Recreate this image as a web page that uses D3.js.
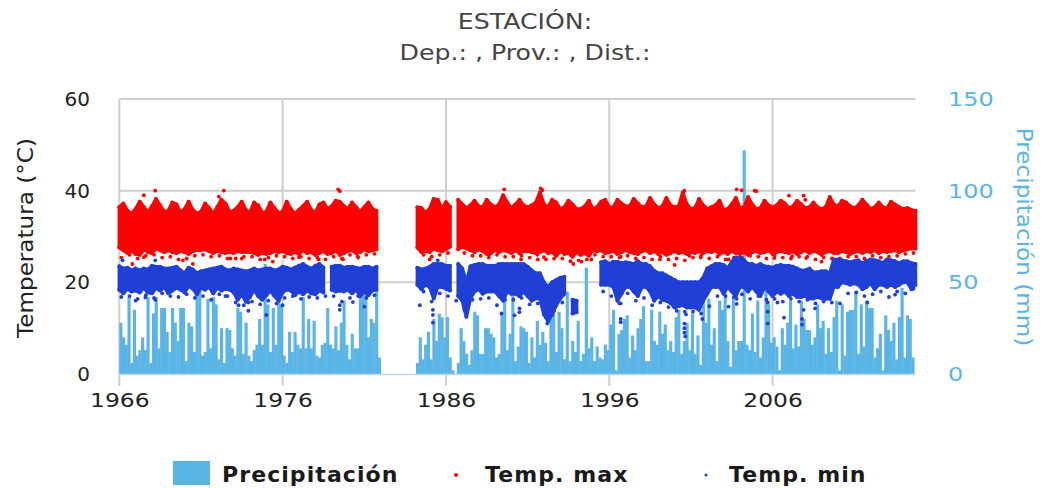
<!DOCTYPE html>
<html><head><meta charset="utf-8">
<script src="https://cdnjs.cloudflare.com/ajax/libs/d3/7.8.5/d3.min.js"></script>
<style>
html,body{margin:0;padding:0;background:#fff}
svg{display:block}
text{font-family:"DejaVu Sans",sans-serif}
.domain{display:none}
</style></head><body><svg width="1046" height="488"></svg>
<script>
const titleLines = ["ESTACIÓN:", "Dep.: , Prov.: , Dist.:"];
const yearTicks = [1966, 1976, 1986, 1996, 2006];
const tempTicks = [0, 20, 40, 60];
const precipTicks = [0, 50, 100, 150];
const firstYear = 1966;

// Precipitation (mm), six readings per year, 1966 onward
const precip = [
28,20,16,42,6,35, 10,13,20,13,42,6, 33,42,14,36,36,23, 12,36,28,18,36,36, 7,28,26,12,45,46,
10,12,41,14,42,38, 8,25,6,25,24,14, 10,36,34,11,28,10, 7,13,16,30,16,60, 38,12,36,16,42,38,
10,6,23,12,23,16, 14,42,14,30,14,29, 10,9,16,17,36,16, 14,26,13,28,40,16, 8,22,14,14,50,50,
48,20,30,28,45,9, 0,0,0,0,0,0, 0,0,0,0,0,0, 0,6,20,8,16,23, 8,30,18,33,31,20,
31,9,2,0,6,25, 18,11,5,13,34,32, 11,11,25,25,22,20, 9,11,33,49,13,22, 49,7,15,26,25,23,
6,20,9,29,16,23, 17,7,31,33,12,34, 25,8,45,7,18,12, 29,7,11,58,14,20, 7,15,9,8,16,13,
27,35,2,22,24,30, 32,9,21,13,25,30, 37,7,7,35,18,16, 34,22,27,13,18,12, 31,35,11,18,28,13,
33,11,21,5,40,28, 41,16,25,7,40,35, 44,18,4,42,13,18, 18,122,16,13,33,12, 40,9,20,47,38,17,
20,15,2,25,16,28, 40,14,27,15,40,30, 24,24,16,20,38,25, 29,11,25,12,31,40, 2,38,10,34,35,35,
45,11,38,15,40,36, 36,9,14,22,2,32, 24,18,28,8,31,47, 9,32,30,9];

// Temp. max: upper and lower edge of the dense cloud, four readings per year
const tMaxHigh = [
36.4,37.2,35.6,35.0, 36.0,37.6,36.4,35.2, 36.6,38.2,36.8,35.4, 35.6,37.4,37.0,35.2,
36.0,37.6,35.8,35.0, 35.4,37.2,36.2,35.0, 36.4,38.0,37.2,35.4, 35.6,36.4,37.6,35.8,
35.2,37.4,36.8,35.2, 35.4,37.4,36.2,35.2, 35.4,37.6,36.0,35.0, 35.8,36.6,37.6,35.8,
35.2,37.0,37.4,36.0, 36.6,37.8,37.6,36.6, 36.0,37.4,36.4,35.4, 36.4,37.4,36.0,35.6,
null,null,null,null, null,null,null,null, null,36.4,36.2,35.2, 36.0,38.2,38.0,36.0,
37.5,36.5,null,38, 37,36.2,36.8,37.8, 36.6,36.4,38,37, 36.4,37,39,37.4, 36.2,37,38,36.8,
36.4,36.8,37.4,39.6, 37,36.4,38,37.4, 36,36.4,37.8,37, 36,36,36.6,37.8, 36,36.4,37.6,38,
36.4,36.4,38,37.2, 36.6,36.6,38.2,37.2, 36.4,36.6,38.4,37, 36.2,36.6,38.4,36.8, 36.4,36.6,39.6,37,
36,36.2,38.2,36.8, 36,36.4,36.8,37.8, 35.8,36,37,38.4, 36.2,36.4,38.6,37, 36,36.2,37.8,36.8,
36.4,36.8,37.8,37.2, 36.2,36.6,37.8,37, 36.2,36.4,37.4,36.4, 36,36.4,38.6,37, 36.6,37.8,37.4,36.6,
36.2,36.8,38,37, 36,36.4,37.4,36.4, 36.2,37.6,37,36.4, 36,36.2,35.8,35.6];
const tMaxLow = [
27.6,27.0,26.4,26.8, 26.2,26.0,27.2,26.6, 26.4,27.4,27.0,26.6, 27.0,26.6,26.4,26.8,
26.6,26.2,26.8,27.0, 27.0,27.2,26.8,26.4, 26.8,26.6,26.4,26.6, 26.4,26.8,26.6,26.6,
26.6,26.4,26.0,26.4, 26.2,26.4,26.8,26.6, 26.8,26.4,26.2,26.6, 26.2,27.0,26.4,26.6,
26.0,26.4,26.8,26.2, 26.4,27.0,26.0,26.4, 26.8,27.0,26.4,26.6, 27.2,26.8,27.0,27.2,
null,null,null,null, null,null,null,null, null,27.6,26.6,26.8, 26.6,27.4,27.0,26.8,
27.2,27.8,null,27.2, 27.8,27.4,27.0,26.6, 27.2,26.8,26.2,26.4, 27.0,26.6,27.0,26.8, 26.4,27.0,26.4,26.8,
26.8,26.6,26.4,26.6, 27.0,26.4,26.6,25.8, 26.8,26.2,26.4,25.6, 26.6,26.0,26.4,25.8, 27.0,26.8,27.0,26.4,
26.6,26.8,26.2,26.6, 27.0,26.6,26.4,26.2, 26.8,27.0,26.4,26.8, 26.2,26.6,26.0,26.4, 26.8,26.4,26.6,26.2,
26.6,26.4,26.8,26.4, 26.8,26.6,27.0,26.2, 26.6,26.2,26.8,26.4, 26.2,26.6,26.0,26.6, 26.8,26.4,26.6,27.0,
26.2,26.6,26.8,26.6, 26.4,26.8,26.2,26.6, 27.0,26.4,26.8,26.6, 26.0,26.6,26.8,26.4, 26.4,26.8,26.6,26.2,
26.6,26.8,26.4,26.8, 26.6,27.0,26.4,26.8, 26.6,26.8,27.0,26.6, 27.0,27.2,27.4,27.4];

// Temp. min: upper and lower edge of the dense cloud, four readings per year
const tMinHigh = [
23.5,23.0,23.2,22.6, 23.0,22.6,23.0,22.8, 23.6,23.4,23.4,23.0, 23.0,23.2,23.4,22.6,
22.0,23.2,22.8,22.0, 22.4,22.6,22.8,23.0, 23.2,23.4,22.8,22.6, 23.0,22.8,22.6,22.4,
22.6,23.0,22.6,22.8, 23.0,23.0,22.6,22.8, 23.4,23.2,22.8,23.2, 23.6,24.0,23.4,23.0,
23.6,24.0,23.2,null, 23.4,23.6,23.6,23.2, 23.4,23.4,23.2,23.0, 23.4,23.4,23.0,23.4,
null,null,null,null, null,null,null,null, null,23.2,22.8,23.0, 23.4,24,24,24,
23.6,23.6,null,24, 23,20,23.5,23.8, 24,24,23.6,23.6, 23.6,24,24,24, 24,24,24,24,
23.4,22.6,22,22, 20,19,20,20.5, 21,21.2,null,16.2, 16,null,null,null, null,null,24.4,24.6,
24,24.5,24.5,24.2, 24.4,24.2,24,24.6, 24,24,23.5,22.5, 22,22,21.5,21, 20.5,20,20,20,
20,20,20,21, 23,23.5,24,24, 23.8,23,24.5,25.4, 25.4,24.8,24,24, 23.6,24,23.5,23.4,
23.2,23.6,23.8,23.6, 23.6,23.4,23,22.6, 22.6,23,22.2,22.2, 22.4,22.4,22.0,25, 25,24.8,24.6,24.4,
24.6,24.8,24.2,24.6, 25,24.8,24.6,24.2, 25,24.8,24.6,24.2, 24.6,24.6,24.2,24];
const tMinLow = [
18.4,17.6,18.6,18.0, 18.2,17.8,18.8,17.8, 17.6,18.8,18.2,19.0, 17.6,18.2,18.8,18.4,
17.8,19.2,18.6,17.4, 18.8,18.4,19.0,17.6, 18.8,18.2,18.6,18.4, 17.8,16.2,17.4,15.8,
16.8,18.4,17.0,16.2, 17.2,18.2,17.0,16.0, 17.8,18.4,18.2,17.2, 18.0,17.4,18.2,17.6,
17.4,18.2,17.8,null, 18.4,18.0,18.2,18.0, 18.4,17.6,18.4,17.0, 18.0,17.2,18.2,18.4,
null,null,null,null, null,null,null,null, null,19.5,18.5,19.5, 19,16.5,19,19,
18.6,18.2,null,17, 16,12.5,16.5,18, 18.5,17.5,18,18, 18,17,16,18, 17.5,17.5,17,18,
17,16,16.5,16.5, 13,11.5,13,15, 16.5,17.5,null,13.2, 13.5,null,null,null, null,null,19.5,19.5,
19.5,19,16,17.5, 19,19,18,17, 19,19,18,16, 17,16.2,16,15.5, 14.5,14.8,15,14.5,
14.5,14.5,14,16, 17.5,19,19,19, 17.5,19,18,17, 19,19,18,19, 18,17,19,18,
17,18,17.5,18, 17,17.5,16.8,16.8, 17,16.5,16.5,16.8, 16.5,16.4,16.4,19, 19,20,19.8,19.5,
19.8,19.5,18.5,19, 19.8,18.5,19.5,19.5, 19,19.5,19,19.5, 20,20,18.5,19.5];

// Fringe readings below each cloud, two per year, offset an eighth of a year
const tMaxFringe = [
25.4,26,25.2,25.8,26,25.4,25.6,25,25.2,25.8,26,25.6,25.8,25.2,25.2,25.6,25.6,25,25.4,25.8,
25.6,25.2,25.6,25.2,25.4,25,25.6,25.2,26,25.4,26,26.2,null,null,null,null,null,26,25.6,26,
26.4,null,26.4,25.8,25.8,25.4,26,25.6,25.6,25.8,25.4,25,25,25.2,25.2,24.6,24.8,25,26,25.6,
25.6,25.4,25.8,25.2,25.4,25,25.6,25,25.2,24.8,25.4,25.8,25.2,25.6,25,25.4,25.4,25.8,25.6,25.2,
25.8,25.4,25.2,25.6,25.6,25,25.4,25.2,25.2,25.6,25.6,25.2,25.8,25.4,25.6,25.8,26.2,26.4];
const tMinFringe = [
16.8,17,16.4,17.2,16.6,17.6,17,16.8,17.4,16.6,17,16.2,17.4,17,15.6,15,15.8,15.2,16,15.4,
16.6,17,16.4,16.8,16.6,17,17,15.8,16.6,17,16.6,17.2,null,null,null,null,null,18,15.8,17.6,
17,16,14,16.2,16.4,16.6,15,16.2,16.2,16.6,15.2,15.4,12.4,13.8,15.6,null,null,null,null,18,
17,15.4,17.6,16,16.6,15,15.6,14.6,13.8,13.6,13.6,13.2,14.8,17,17,16.8,17.4,16.4,17,16.2,
16.4,15.8,16.4,15.8,16.2,15.4,15.8,15.6,15.4,17.6,17.8,17,17.4,18,16.8,18,17.6,18.6];

// Stray Temp. max readings
const tMaxDotYears = [1968.2,1967.5,1972.4,1979.4,1979.5,1972.1,1966.8,1967.5,1969.9,1970.5,1972.8,1973.5,1974.9,1975.4,1977,1978.2,1979.7,1980.6,1985,1989.57,1991.8,1991.9,1993.8,1994.3,1994.9,1990.6,1991.6,1992,1988.65,2000,1999.1,1996.7,2000.6,2003.8,2004.1,2004.9,2005,2007.9,2007,2008,2000.9,2001.6,2003.3,2006.1,2007.2,2009,2008.05];
const tMaxDotValues = [40,39,40,40.3,39.9,38.7,24,25.5,24.8,24,25.2,25.2,25,24.5,25.5,25,25,25.7,25,40.3,40.5,40.1,24,24.5,25,25,26,25.5,26,23.8,25,25.6,40,40.3,40.1,40,39.9,38.9,38.9,38,25.8,25.4,25,25.3,25.7,24.5,25.3];
// Stray Temp. min readings
const tMinDotYears = [1975,1973.9,1973.9,1979.5,1979.5,1980.3,1981,1985.2,1985.2,1985.2,1984.4,1973.3,1976,1972.5,1968.2,1967.6,1967,1985.5,1966.2,1968.2,1989.4,1990.5,1990.5,1990.2,1992.2,1996.7,1996.7,1996.7,2000.6,2000.6,2000.6,2000.65,2000.7,2001.7,2003.3,2003.8,2003.8,2005.7,2005.7,2005.7,2006.7,2007.8,2007.8,2008.6,2011.8,2013.5,2006.3,2007.9];
const tMinDotValues = [12.9,13.8,15.6,14,15,15.7,14.7,14,12.9,11.2,15,15,15,17,16.2,16.7,16,24.8,24.8,24.8,13.2,14.3,13.5,12.8,11,12,11.3,15.4,11,10,9,8.2,13,12,14.7,16.4,15.3,15.6,13.6,11,12.3,12,10.8,14.3,15.6,17.3,15.6,14];

const legendLabels = ["Precipitación", "Temp. max", "Temp. min"];

const svg = d3.select("svg");
const x = d3.scaleLinear().domain([1966, 2014.75]).range([119.3, 915.5]);
const yT = d3.scaleLinear().domain([0, 60]).range([374, 99]);
const yP = d3.scaleLinear().domain([0, 150]).range([374, 99]);
const grid = "#cfcfcf", blue = "#5ab4e6", red = "#ff0000", navy = "#1f3fd6", ink = "#222";

// widen a text to the wider letterforms of the reference
function widen(sel, f) {
  sel.each(function () {
    const w = this.getComputedTextLength();
    d3.select(this).attr("textLength", w * f).attr("lengthAdjust", "spacingAndGlyphs");
  });
}

// titles
svg.selectAll(".title").data(titleLines).join("text")
  .attr("x", 525).attr("y", (d, i) => 29 + i * 31)
  .attr("text-anchor", "middle").attr("font-size", 21).attr("fill", "#444")
  .text(d => d).call(widen, 1.2);

// grid
const gx = svg.append("g").attr("transform", "translate(0,374)")
  .call(d3.axisBottom(x).tickValues(yearTicks).tickFormat(d3.format("d")).tickSize(14).tickPadding(5));
gx.selectAll("line").remove();
gx.selectAll("text").attr("font-size", 20).attr("fill", ink).style("font-family", '"DejaVu Sans"').call(widen, 1.17);
svg.append("g").selectAll("line").data(yearTicks).join("line")
  .attr("x1", d => x(d)).attr("x2", d => x(d)).attr("y1", 99).attr("y2", 386)
  .attr("stroke", grid).attr("stroke-width", 2);
svg.append("g").selectAll("line").data(tempTicks.slice(1)).join("line")
  .attr("x1", x.range()[0]).attr("x2", x.range()[1]).attr("y1", d => yT(d)).attr("y2", d => yT(d))
  .attr("stroke", grid).attr("stroke-width", 2);

const gl = svg.append("g").attr("transform", "translate(119,0)")
  .call(d3.axisLeft(yT).tickValues(tempTicks).tickSize(0).tickPadding(29));
gl.selectAll("text").attr("font-size", 20).attr("fill", ink).style("font-family", '"DejaVu Sans"');
const gr = svg.append("g").attr("transform", "translate(915,0)")
  .call(d3.axisRight(yP).tickValues(precipTicks).tickSize(0).tickPadding(33));
gr.selectAll("text").attr("font-size", 20).attr("fill", blue).style("font-family", '"DejaVu Sans"').call(widen, 1.2);

// axis titles
svg.append("text").attr("transform", "translate(33,238) rotate(-90)")
  .attr("text-anchor", "middle").attr("font-size", 21).attr("fill", ink).text("Temperatura (°C)").call(widen, 1.1);
svg.append("text").attr("transform", "translate(1017,237) rotate(90)")
  .attr("text-anchor", "middle").attr("font-size", 21).attr("fill", blue).attr("font-weight", 500).text("Precipitación (mm)").call(widen, 1.1);

// precipitation bars
const precipStep = 1 / 6, stepW = x(firstYear + precipStep) - x(firstYear);
svg.append("g").selectAll("rect").data(precip).join("rect")
  .attr("x", (d, i) => x(firstYear + i * precipStep))
  .attr("width", stepW + 0.4)
  .attr("y", d => yP(d))
  .attr("height", d => yP(0) - yP(d))
  .attr("fill", blue);
svg.append("line").attr("x1", x.range()[0]).attr("x2", x.range()[1]).attr("y1", 374.5).attr("y2", 374.5)
  .attr("stroke", "#c5d3e0").attr("stroke-width", 1.5);

// temperature clouds
function cloud(high, low, fringe, dotYears, dotValues, color) {
  const t = i => firstYear + i * 0.25;
  const rows = high.map((h, i) => ({ t: t(i), h, l: low[i] }));
  const area = d3.area().defined(d => d.h !== null && d.l !== null)
    .x(d => x(d.t)).y0(d => yT(d.l)).y1(d => yT(d.h));
  const g = svg.append("g");
  g.append("path").datum(rows).attr("d", area).attr("fill", color).attr("stroke", color).attr("stroke-width", 3.5).attr("stroke-linejoin", "round");
  const edge = rows.filter(d => d.h !== null && d.l !== null);
  g.selectAll(".hi").data(edge, d => d.t).join("circle").attr("cx", d => x(d.t)).attr("cy", d => yT(d.h)).attr("r", 2).attr("fill", color);
  g.append("g").selectAll("circle").data(edge).join("circle").attr("cx", d => x(d.t)).attr("cy", d => yT(d.l)).attr("r", 2).attr("fill", color);
  g.append("g").selectAll("circle").data(fringe.map((v, i) => ({ t: firstYear + 0.125 + i * 0.5, v })).filter(d => d.v !== null)).join("circle")
    .attr("cx", d => x(d.t)).attr("cy", d => yT(d.v)).attr("r", 1.9).attr("fill", color);
  g.append("g").selectAll("circle").data(dotYears).join("circle")
    .attr("cx", d => x(d)).attr("cy", (d, i) => yT(dotValues[i])).attr("r", 1.9).attr("fill", color);
}
cloud(tMaxHigh, tMaxLow, tMaxFringe, tMaxDotYears, tMaxDotValues, red);
cloud(tMinHigh, tMinLow, tMinFringe, tMinDotYears, tMinDotValues, navy);

// legend
const lg = svg.append("g");
lg.append("rect").attr("x", 173).attr("y", 461).attr("width", 37).attr("height", 24).attr("fill", blue);
lg.append("circle").attr("cx", 456).attr("cy", 475).attr("r", 2).attr("fill", red);
lg.append("circle").attr("cx", 706).attr("cy", 475).attr("r", 1.5).attr("fill", navy);
[222, 485, 729].forEach((px, i) => {
  lg.append("text").attr("x", px).attr("y", 482).attr("font-size", 21).attr("font-weight", 600)
    .attr("letter-spacing", 1).attr("fill", "#1a1a1a").text(legendLabels[i]).call(widen, 1.05);
});
</script></body></html>
